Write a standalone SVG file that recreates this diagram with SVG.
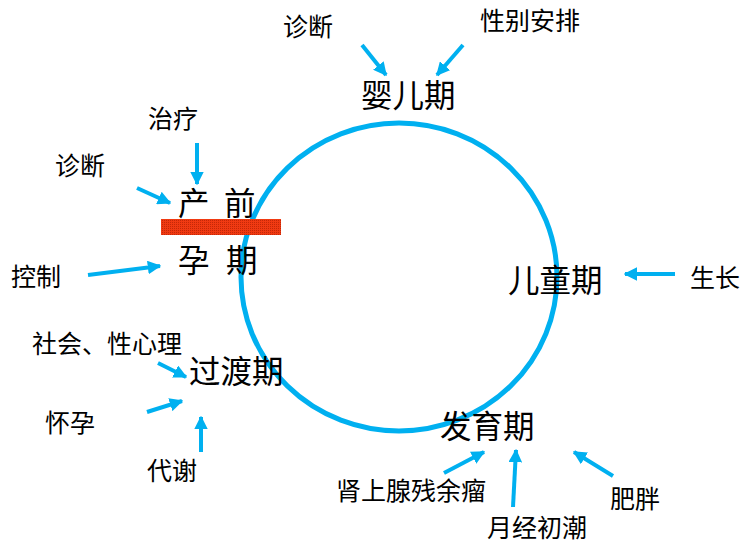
<svg xmlns="http://www.w3.org/2000/svg" width="751" height="547" viewBox="0 0 751 547">
<defs>
<style>
.lbl{font-family:"Noto Sans CJK SC","Liberation Serif",serif;font-size:25px;fill:#000}
.big{font-family:"Noto Sans CJK SC","Liberation Serif",serif;font-size:31.5px;fill:#000}
.arr{stroke:#00B0F0;stroke-width:4;fill:none;marker-end:url(#ah)}
</style>
<marker id="ah" viewBox="0 0 10 10" refX="9" refY="5" markerWidth="3.4" markerHeight="3.4" orient="auto" markerUnits="strokeWidth">
<path d="M0,0 L10,5 L0,10 z" fill="#00B0F0"/>
</marker>
<pattern id="hatch" width="2" height="2" patternUnits="userSpaceOnUse">
<rect width="2" height="2" fill="#F03A12"/>
<rect width="1" height="1" fill="#C42808"/>
</pattern>
</defs>
<rect width="751" height="547" fill="#fff"/>
<g id="cycle">
<ellipse cx="399" cy="277" rx="158" ry="154" fill="none" stroke="#00B0F0" stroke-width="5"/>
</g>
<g id="bar"><rect x="161" y="219" width="120" height="16" fill="url(#hatch)"/></g>
<g id="connectors">
<line class="arr" x1="362" y1="45" x2="386" y2="75"/>
<line class="arr" x1="463" y1="45" x2="437" y2="75"/>
<line class="arr" x1="197" y1="143" x2="197" y2="184"/>
<line class="arr" x1="137" y1="188" x2="170" y2="203"/>
<line class="arr" x1="88" y1="275" x2="160" y2="266"/>
<line class="arr" x1="675" y1="274" x2="625" y2="274"/>
<line class="arr" x1="158" y1="363" x2="186" y2="377"/>
<line class="arr" x1="147" y1="412" x2="182" y2="401"/>
<line class="arr" x1="201" y1="452" x2="201" y2="417"/>
<line class="arr" x1="444" y1="473" x2="484" y2="452"/>
<line class="arr" x1="513" y1="507" x2="516" y2="450"/>
<line class="arr" x1="613" y1="476" x2="574" y2="452"/>
</g>
<g id="infant"><text class="big" x="361" y="107">婴儿期</text></g>
<g id="diag1"><text class="lbl" x="283" y="36">诊断</text></g>
<g id="sex"><text class="lbl" x="480" y="30">性别安排</text></g>
<g id="treat"><text class="lbl" x="148" y="128">治疗</text></g>
<g id="diag2"><text class="lbl" x="55" y="175">诊断</text></g>
<g id="prenatal"><text class="big" x="178" y="215">产</text><text class="big" x="224" y="215">前</text></g>
<g id="pregnancy"><text class="big" x="178" y="272">孕</text><text class="big" x="226" y="272">期</text></g>
<g id="control"><text class="lbl" x="11" y="286">控制</text></g>
<g id="child"><text class="big" x="508" y="292">儿童期</text></g>
<g id="growth"><text class="lbl" x="690" y="287">生长</text></g>
<g id="social"><text class="lbl" x="32" y="353">社会、性心理</text></g>
<g id="transition"><text class="big" x="189" y="383">过渡期</text></g>
<g id="preg2"><text class="lbl" x="45" y="432">怀孕</text></g>
<g id="metab"><text class="lbl" x="147" y="480">代谢</text></g>
<g id="puberty"><text class="big" x="440" y="438">发育期</text></g>
<g id="adrenal"><text class="lbl" x="336" y="500">肾上腺残余瘤</text></g>
<g id="menarche"><text class="lbl" x="487" y="537">月经初潮</text></g>
<g id="obesity"><text class="lbl" x="610" y="508">肥胖</text></g>
</svg>
